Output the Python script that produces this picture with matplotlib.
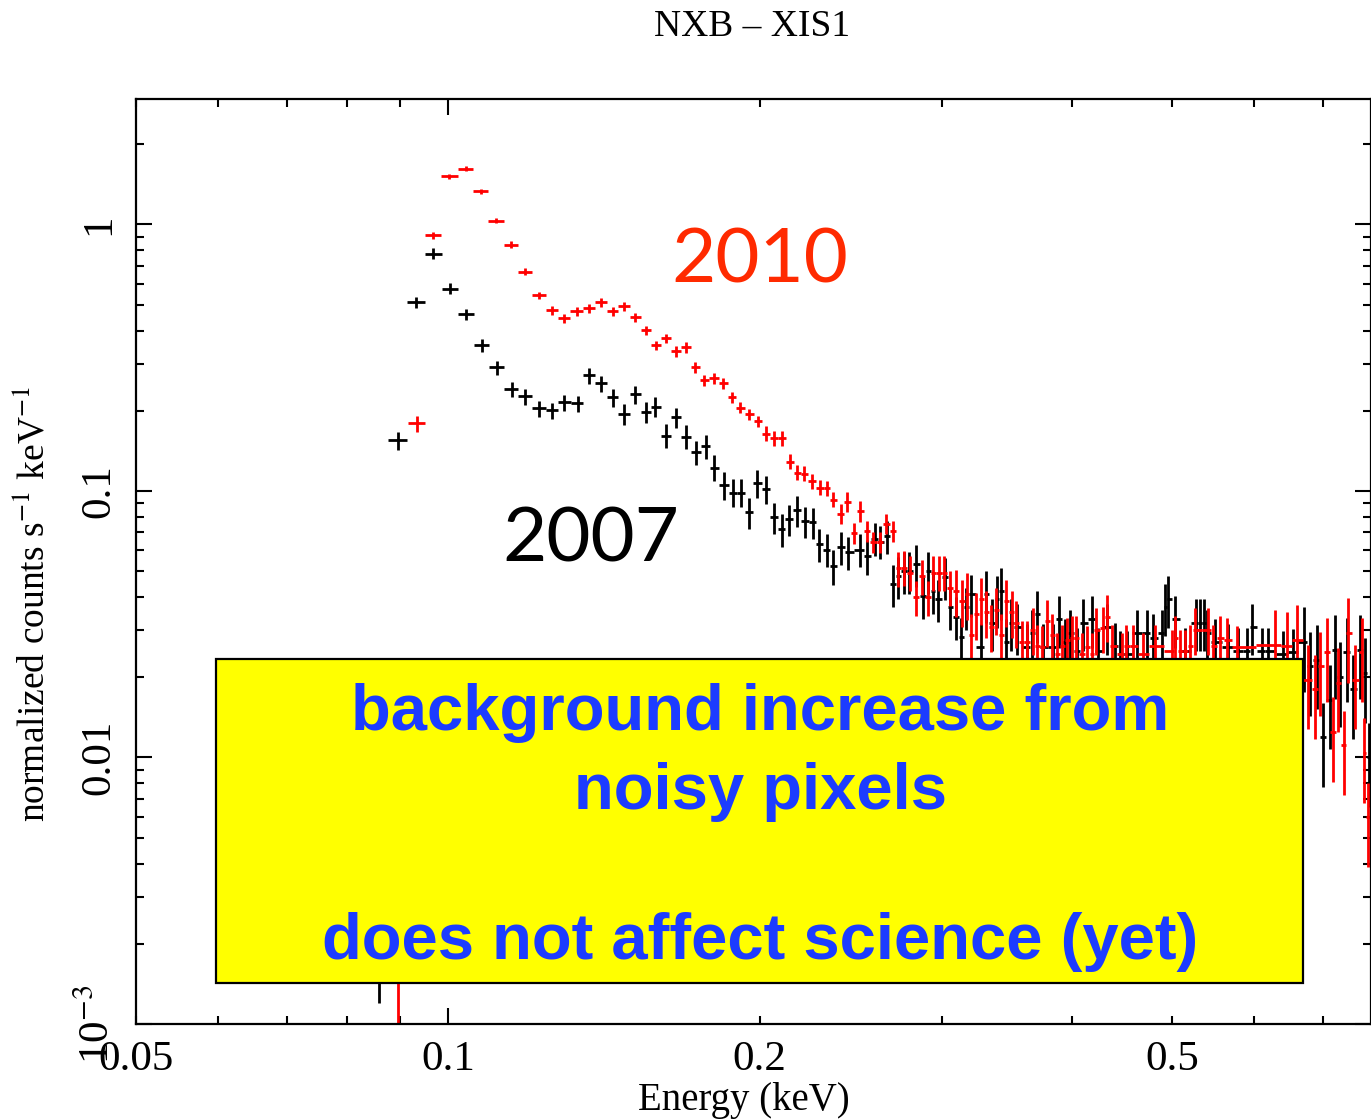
import numpy as np
import matplotlib
matplotlib.use('Agg')
import matplotlib.pyplot as plt
from matplotlib.ticker import LogLocator, FuncFormatter, FixedLocator
from matplotlib.patches import Rectangle

plt.rcParams['font.family'] = ['Liberation Serif', 'DejaVu Serif']
plt.rcParams['mathtext.fontset'] = 'stix'

# XIS1 non-X-ray background, 2007 (black)
energy_2007 = [0.0858,
    0.0895, 0.0932, 0.0968, 0.1005, 0.1041, 0.1079, 0.1115, 0.1153, 0.1187, 0.1225,
    0.1260, 0.1294, 0.1335, 0.1368, 0.1405, 0.1443, 0.1479, 0.1516, 0.1553, 0.1585,
    0.1624, 0.1661, 0.1698, 0.1736, 0.1775, 0.1807, 0.1848, 0.1885, 0.1919, 0.1953,
    0.1988, 0.2028, 0.2064, 0.2101, 0.2134, 0.2173, 0.2212, 0.2252, 0.2282, 0.2323,
    0.2354, 0.2396, 0.2433, 0.2499, 0.2539, 0.2584, 0.2613, 0.2654,
    0.2690, 0.2720, 0.2756, 0.2787, 0.2831, 0.2875, 0.2907, 0.2939, 0.2972, 0.3019,
    0.3053, 0.3094, 0.3128, 0.3164, 0.3199,
    0.3271, 0.3308, 0.3352, 0.3389, 0.3419, 0.3457, 0.3496, 0.3543, 0.3622, 0.3663,
    0.3704, 0.3754, 0.3838, 0.3890, 0.3942, 0.3986, 0.4049, 0.4103, 0.4186, 0.4242,
    0.4328, 0.4406, 0.4455, 0.4525, 0.4626, 0.4731, 0.4794, 0.4891, 0.4923, 0.4956,
    0.5034, 0.5146, 0.5274, 0.5321, 0.5369, 0.5405, 0.5502, 0.5664, 0.5791, 0.5908,
    0.5974, 0.6108, 0.6190, 0.6397, 0.6541,
    0.6703, 0.6793, 0.6900, 0.6993, 0.7101, 0.7180, 0.7262, 0.7375, 0.7475, 0.7593,
    0.7677, 0.7747]
counts_2007 = [0.004,
    0.1547, 0.5097, 0.778, 0.575, 0.4596, 0.3516, 0.2907, 0.2404, 0.2263, 0.2040,
    0.2005, 0.2149, 0.2130, 0.2713, 0.2532, 0.2243, 0.1937, 0.2302, 0.1971, 0.2075,
    0.1615, 0.1887, 0.1601, 0.1395, 0.1469, 0.1225, 0.1049, 0.0987, 0.0987, 0.0831,
    0.1067, 0.1013, 0.0796, 0.0717, 0.0782, 0.0845, 0.0769, 0.0762, 0.0630, 0.0603,
    0.0521, 0.0614, 0.0588, 0.0603, 0.0568, 0.0663, 0.0646, 0.0675,
    0.0446, 0.0478, 0.0499, 0.0499, 0.0530, 0.0402, 0.0499, 0.0420, 0.0392, 0.0474,
    0.0366, 0.0338, 0.0284, 0.0366, 0.0409,
    0.0259, 0.0409, 0.0321, 0.0392, 0.0420, 0.0272, 0.0321, 0.0310, 0.0259, 0.0294,
    0.0344, 0.0259, 0.0259, 0.0330, 0.0272, 0.0294, 0.0250, 0.0321, 0.0330, 0.0250,
    0.0310, 0.0261, 0.0244, 0.0244, 0.0294, 0.0294, 0.0282, 0.0294, 0.0366, 0.0392,
    0.0330, 0.0250, 0.0321, 0.0321, 0.0321, 0.0294, 0.0272, 0.0259, 0.0250, 0.0250,
    0.0310, 0.0250, 0.0250, 0.0244, 0.0248,
    0.0272, 0.0220, 0.0233, 0.0119, 0.0165, 0.0254, 0.0201, 0.0248, 0.0180, 0.0254,
    0.0208, 0.0100]
relerr_2007 = ([0.7,
    0.08, 0.05, 0.045, 0.05, 0.05, 0.055, 0.06, 0.065, 0.07, 0.07,
    0.07, 0.07, 0.07, 0.07, 0.07, 0.08, 0.09, 0.08, 0.09, 0.09,
    0.10, 0.09, 0.10, 0.10, 0.10, 0.11, 0.12, 0.12, 0.12, 0.13,
    0.12, 0.12, 0.13, 0.14, 0.13, 0.13, 0.13, 0.13, 0.14, 0.14,
    0.15, 0.14, 0.14, 0.14, 0.15, 0.14, 0.14, 0.14]
    + [0.18] * 15 + [0.22] * 45 + [0.35] * 12)

# same detector, 2010 (red)
energy_2010 = [0.0895,
    0.0934, 0.0968, 0.1003, 0.1041, 0.1076, 0.1113, 0.1151, 0.1187, 0.1225, 0.1260,
    0.1294, 0.1332, 0.1368, 0.1405, 0.1443, 0.1479, 0.1516, 0.1553, 0.1588, 0.1624,
    0.1661, 0.1698, 0.1732, 0.1768, 0.1807, 0.1843, 0.1881, 0.1914, 0.1953, 0.1993,
    0.2028, 0.2064, 0.2101, 0.2139, 0.2173, 0.2207, 0.2247, 0.2287, 0.2323, 0.2354,
    0.2396, 0.2428, 0.2466, 0.2499, 0.2539, 0.2573, 0.2613, 0.2648, 0.2690,
    0.2720, 0.2756, 0.2793, 0.2831, 0.2869, 0.2907, 0.2939, 0.2979, 0.3012, 0.3053,
    0.3094, 0.3135, 0.3170, 0.3199, 0.3234, 0.3271, 0.3308, 0.3344, 0.3381, 0.3419,
    0.3457, 0.3504, 0.3535, 0.3582, 0.3622, 0.3671, 0.3704, 0.3746, 0.3787, 0.3830,
    0.3873, 0.3915, 0.3959, 0.4003, 0.4038, 0.4094, 0.4140, 0.4186, 0.4223, 0.4290,
    0.4328, 0.4376, 0.4474, 0.4514, 0.4585, 0.4688, 0.4815, 0.5000, 0.5034, 0.5090,
    0.5146, 0.5204, 0.5262, 0.5417, 0.5478, 0.5563, 0.5650, 0.5777, 0.6284, 0.6454,
    0.6600, 0.6765, 0.6871, 0.6949, 0.7057, 0.7152, 0.7232, 0.7328, 0.7395, 0.7509,
    0.7627, 0.7660, 0.7730]
counts_2010 = [0.004,
    0.1792, 0.9094, 1.514, 1.622, 1.330, 1.035, 0.841, 0.666, 0.5415, 0.4757,
    0.4439, 0.4718, 0.4842, 0.5097, 0.4718, 0.4926, 0.4477, 0.4002, 0.3516, 0.3735,
    0.3338, 0.3455, 0.2907, 0.2599, 0.2644, 0.2532, 0.2243, 0.2057, 0.1937, 0.1823,
    0.1643, 0.1574, 0.1574, 0.1290, 0.1173, 0.1163, 0.1086, 0.1030, 0.1022, 0.0929,
    0.0823, 0.0913, 0.0693, 0.0838, 0.0705, 0.0641, 0.0641, 0.0755, 0.0705,
    0.0512, 0.0516, 0.0494, 0.0399, 0.0478, 0.0399, 0.0494, 0.0494, 0.0494, 0.0434,
    0.0420, 0.0385, 0.0409, 0.0289, 0.0344, 0.0392, 0.0350, 0.0310, 0.0359, 0.0289,
    0.0385, 0.0350, 0.0321, 0.0272, 0.0272, 0.0302, 0.0261, 0.0259, 0.0324, 0.0289,
    0.0244, 0.0261, 0.0277, 0.0282, 0.0282, 0.0244, 0.0259, 0.0244, 0.0302, 0.0307,
    0.0338, 0.0261, 0.0244, 0.0261, 0.0261, 0.0244, 0.0261, 0.0250, 0.0282, 0.0250,
    0.0250, 0.0261, 0.0302, 0.0302, 0.0261, 0.0282, 0.0277, 0.0259, 0.0265, 0.0261,
    0.0277, 0.0196, 0.0180, 0.0220, 0.0248, 0.0125, 0.0191, 0.0111, 0.0294, 0.0196,
    0.0248, 0.0104, 0.00596]
relerr_2010 = ([0.97, 0.07, 0.03, 0.02, 0.02, 0.022,
    0.025, 0.028, 0.03, 0.033, 0.035]
    + [0.04] * 10 + [0.05] * 10 + [0.065] * 10 + [0.09] * 9
    + [0.15] * 10 + [0.2] * 48 + [0.35] * 15)

x_ticks_labelled = [0.05, 0.1, 0.2, 0.5]
y_tick_text = {1e-3: r'10$^{-3}$', 0.01: '0.01', 0.1: '0.1', 1.0: '1'}

note_lines = ['background increase from', 'noisy pixels', 'does not affect science (yet)']


def bin_halfwidths(e):
    # channel edges at the geometric midpoints between neighbouring bins
    e = np.asarray(e)
    mids = np.sqrt(e[:-1] * e[1:])
    lo = np.concatenate([[e[0] ** 2 / mids[0]], mids])
    hi = np.concatenate([mids, [e[-1] ** 2 / mids[-1]]])
    return np.vstack([e - lo, hi - e])


fig = plt.figure(figsize=(13.71, 11.2), dpi=100)
ax = fig.add_axes([136 / 1371, 96 / 1120, 1235 / 1371, 925 / 1120])

for e, c, r, col in [(energy_2007, counts_2007, relerr_2007, 'black'),
                     (energy_2010, counts_2010, relerr_2010, 'red')]:
    c = np.asarray(c)
    ax.errorbar(e, c, xerr=bin_halfwidths(e), yerr=c * np.asarray(r),
                fmt='none', ecolor=col, elinewidth=2, capsize=0, zorder=2)

ax.set_xscale('log')
ax.set_yscale('log')
ax.set_xlim(0.05, 0.778)
ax.set_ylim(1e-3, 2.957)

# decade ticks long, the rest short; 0.05/0.2/0.5 labelled on the short ones
ax.xaxis.set_major_locator(FixedLocator([0.1, 1.0]))
ax.xaxis.set_minor_locator(FixedLocator([0.05, 0.06, 0.07, 0.08, 0.09, 0.2, 0.3, 0.4, 0.5, 0.6, 0.7]))
fmt_x = FuncFormatter(lambda v, p: ('%g' % v) if any(abs(v - t) < 1e-9 for t in x_ticks_labelled) else '')
ax.xaxis.set_major_formatter(fmt_x)
ax.xaxis.set_minor_formatter(fmt_x)
ax.yaxis.set_major_locator(LogLocator(base=10, numticks=10))
ax.yaxis.set_minor_locator(LogLocator(base=10, subs=np.arange(2, 10), numticks=20))
ax.yaxis.set_major_formatter(FuncFormatter(
    lambda v, p: next((s for k, s in y_tick_text.items() if abs(np.log10(v) - np.log10(k)) < 1e-6), '')))
ax.yaxis.set_minor_formatter(FuncFormatter(lambda v, p: ''))

ax.tick_params(which='both', direction='in', top=True, right=True, width=1.5, labelsize=31)
ax.tick_params(which='major', length=11.5)
ax.tick_params(which='minor', length=5.8)
ax.tick_params(axis='x', which='both', pad=12)
ax.tick_params(axis='y', which='both', pad=13)
for lab in ax.get_yticklabels():
    lab.set_rotation(90)
    lab.set_va('center')
for sp in ax.spines.values():
    sp.set_linewidth(1.6)

ax.set_xlabel('Energy (keV)', fontsize=28)
ax.xaxis.set_label_coords(0.492, -0.0625)
ax.set_ylabel(r'normalized counts s$^{-1}$ keV$^{-1}$', fontsize=27)
ax.yaxis.set_label_coords(-0.068, 0.454)

fig.text(752 / 1371, 1 - 36 / 1120, 'NXB \u2013 XIS1', fontsize=27, ha='center', va='baseline')

ax.text(0.5053, 0.8011, '2010', transform=ax.transAxes, ha='center', va='baseline',
        fontsize=55, color='#ff2a00', family=['Lato', 'DejaVu Sans'])
ax.text(0.3684, 0.4995, '2007', transform=ax.transAxes, ha='center', va='baseline',
        fontsize=55, color='black', family=['Lato', 'DejaVu Sans'])

ax.add_patch(Rectangle((0.0648, 0.0443), 0.945 - 0.0648, 0.3946 - 0.0443, transform=ax.transAxes,
                       facecolor='#ffff00', edgecolor='black', linewidth=1.6, zorder=5))
for txt, yb in zip(note_lines, [0.3178, 0.2324, 0.0703]):
    ax.text(0.5053, yb, txt, transform=ax.transAxes, ha='center', va='baseline',
            fontsize=47, fontweight='bold', color='#1c3cff',
            family=['Liberation Sans', 'DejaVu Sans'], zorder=6)

fig.savefig('out.png', dpi=100)
